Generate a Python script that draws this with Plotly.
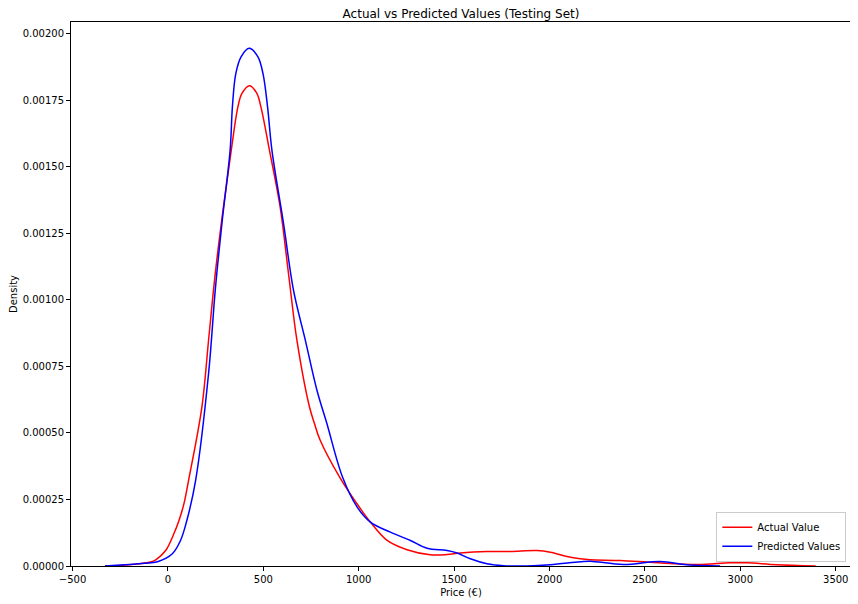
import plotly.graph_objects as go

# KDE curves (price in EUR, density)
actual_x = [-330, -250, -152, -91, -64, -12, 31, 58, 84, 108, 178, 213, 248, 291, 332, 367,
            388, 428, 466, 487, 532, 588, 632, 676, 742, 768, 798, 903, 1009, 1061, 1149, 1253,
            1375, 1463, 1532, 1672, 1794, 1934, 2004, 2091, 2161, 2213, 2370, 2545, 2772,
            2946, 3034, 3191, 3395]
actual_y = [0, 0.000002, 0.0000083, 0.000015, 0.0000233, 0.000058, 0.000121, 0.000171,
            0.000234, 0.000321, 0.000597, 0.000848, 0.001098, 0.001349, 0.001562, 0.001725,
            0.001775, 0.001804, 0.001775, 0.001725, 0.001562, 0.001349, 0.001098, 0.000848,
            0.000597, 0.000535, 0.000472, 0.00033, 0.000215, 0.000165, 0.0000959, 0.000061,
            0.000042, 0.0000432, 0.000049, 0.0000545, 0.0000545, 0.000058, 0.000052,
            0.0000357, 0.000027, 0.0000233, 0.0000207, 0.0000132, 0.0000056, 0.000012,
            0.000012, 0.0000045, 0]

pred_x = [-330, -152, -47, 23, 66, 97, 145, 213, 248, 283, 326, 338, 356, 384, 426, 471,
          498, 522, 545, 606, 658, 720, 781, 833, 915, 992, 1061, 1166, 1271, 1358, 1463,
          1515, 1585, 1672, 1759, 1882, 2004, 2161, 2213, 2388, 2580, 2720, 2894]
pred_y = [0, 0.0000083, 0.000018, 0.0000459, 0.0000959, 0.000165, 0.000321, 0.000723,
          0.001036, 0.001286, 0.001562, 0.001725, 0.00185, 0.001913, 0.001944, 0.001913,
          0.00185, 0.001725, 0.001562, 0.001286, 0.001036, 0.000848, 0.00066, 0.000535,
          0.000334, 0.000221, 0.000165, 0.000127, 0.0000959, 0.0000669, 0.0000583,
          0.000049, 0.000027, 0.0000083, 0.0000008, 0, 0.0000045, 0.0000158, 0.000018,
          0.0000056, 0.0000169, 0.0000045, 0]

x_ticks = [-500, 0, 500, 1000, 1500, 2000, 2500, 3000, 3500]
y_ticks = [0, 0.00025, 0.0005, 0.00075, 0.001, 0.00125, 0.0015, 0.00175, 0.002]

fig = go.Figure()
fig.add_trace(go.Scatter(x=actual_x, y=actual_y, mode='lines', name='Actual Value',
                         line=dict(color='red', width=1.5, shape='spline', smoothing=1)))
fig.add_trace(go.Scatter(x=pred_x, y=pred_y, mode='lines', name='Predicted Values',
                         line=dict(color='blue', width=1.5, shape='spline', smoothing=1)))

axis_style = dict(showline=True, linecolor='black', linewidth=1, mirror=True,
                  ticks='outside', ticklen=4, tickcolor='black', showgrid=False,
                  zeroline=False, automargin=False, tickfont=dict(size=10, color='black'))

fig.update_xaxes(range=[-508, 3580], tickvals=x_ticks,
                 title=dict(text='Price (€)', font=dict(size=10, color='black'), standoff=4),
                 **axis_style)
fig.update_yaxes(range=[0, 0.002043], tickvals=y_ticks, tickformat='.5f',
                 title=dict(text='Density', font=dict(size=10, color='black'), standoff=4),
                 **axis_style)

# page body adds an 8px offset, so the figure is a little smaller than the window
fig.update_layout(
    width=850, height=596,
    margin=dict(l=63, r=7, t=14, b=38),
    paper_bgcolor='white', plot_bgcolor='white',
    font=dict(family='DejaVu Sans', size=10, color='black'),
    title=dict(text='Actual vs Predicted Values (Testing Set)', xref='paper', x=0.5,
               xanchor='center', yref='container', y=0.991, yanchor='middle',
               font=dict(size=12, color='black')),
    legend=dict(x=0.994, y=0.008, xanchor='right', yanchor='bottom',
                bgcolor='white', bordercolor='#cccccc', borderwidth=1,
                font=dict(size=10)),
    showlegend=True,
)

fig.write_html("out.html")
